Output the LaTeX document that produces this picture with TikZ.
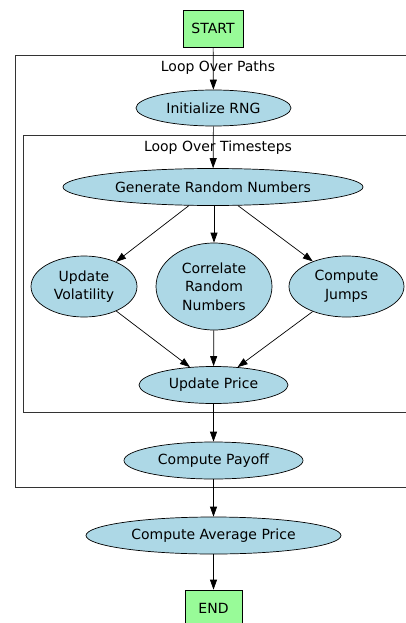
\documentclass[tikz,border=0pt]{standalone}
\usepackage{fontspec}
\setmainfont{DejaVu Sans}
\usetikzlibrary{shapes.geometric,arrows.meta}
\definecolor{lblue}{HTML}{ADD8E6}
\definecolor{pgreen}{HTML}{98FB98}
\begin{document}
\begin{tikzpicture}[x=1pt,y=-1pt,
  txt/.style={font=\fontsize{14}{18.5}\selectfont,text=black},
  el/.style={txt,ellipse,draw=black,fill=lblue,line width=0.7pt,inner sep=0pt,align=center},
  box/.style={txt,rectangle,draw=black,fill=pgreen,line width=0.7pt,inner sep=0pt,minimum height=37pt},
  cluster/.style={draw=black!80,line width=0.8pt},
  arr/.style={-{Triangle[length=10pt,width=7pt]},line width=0.7pt}]
\useasboundingbox (0,0) rectangle (406,623);
\clip (0,0) rectangle (406,623);
% clusters
\draw[cluster] (15,55) rectangle (430,487);
\node[txt] (lpaths) at (218,68) {Loop Over Paths};
\draw[cluster] (23,135) rectangle (430,412);
\node[txt] (lsteps) at (218,148) {Loop Over Timesteps};
% nodes
\node[box,minimum width=60pt] (start) at (213,28.5) {START};
\node[el,minimum width=155pt,minimum height=36pt] (init) at (213.5,108) {Initialize RNG};
\node[el,minimum width=300pt,minimum height=37pt] (gen) at (213,187) {Generate Random Numbers};
\node[el,minimum width=106pt,minimum height=61pt] (vol) at (84,286.5) {Update\\Volatility};
\node[el,minimum width=116pt,minimum height=87pt] (cor) at (214,286.5) {Correlate\\Random\\Numbers};
\node[el,minimum width=115pt,minimum height=61pt] (jmp) at (346.5,286.5) {Compute\\Jumps};
\node[el,minimum width=149pt,minimum height=37pt] (price) at (213.5,385) {Update Price};
\node[el,minimum width=179pt,minimum height=37pt] (payoff) at (213.5,460.5) {Compute Payoff};
\node[el,minimum width=255pt,minimum height=37pt] (avg) at (213.5,535.5) {Compute Average Price};
\node[box,minimum width=57pt] (end) at (213.5,608.5) {END};
% edges
\draw[arr] (start) -- (init);
\draw[arr] (init) -- (gen);
\draw[arr] (gen) -- (vol);
\draw[arr] (gen.south -| cor.north) -- (cor);
\draw[arr] (gen) -- (jmp);
\draw[arr] (vol) -- (price);
\draw[arr] (cor) -- (price);
\draw[arr] (jmp) -- (price);
\draw[arr] (price) -- (payoff);
\draw[arr] (payoff) -- (avg);
\draw[arr] (avg) -- (end);
\end{tikzpicture}
\end{document}
